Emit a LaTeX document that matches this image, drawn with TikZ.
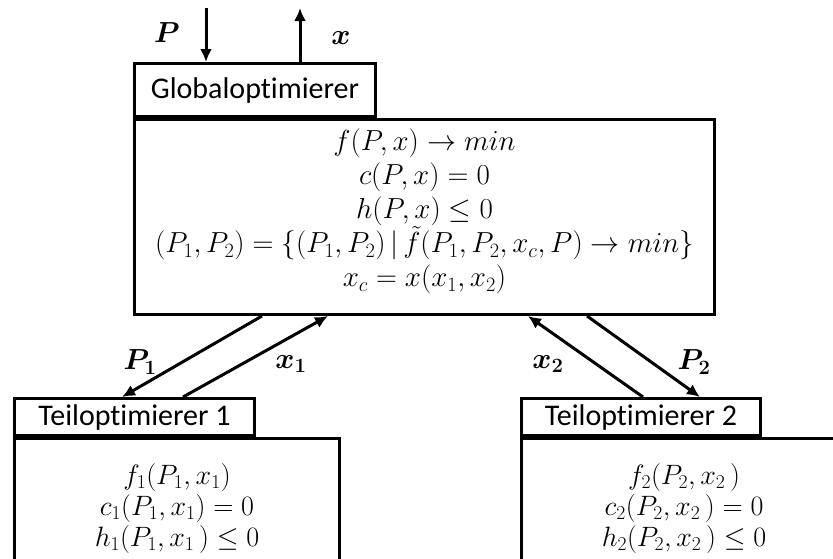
\RequirePackage{fix-cm}
\documentclass[tikz,border=0pt]{standalone}
\usepackage{amsmath}
\usepackage{bm}
\usepackage{fontspec}
\setmainfont{Carlito}[Ligatures={NoCommon,NoContextual}]
\usetikzlibrary{arrows.meta}

\begin{document}
\begin{tikzpicture}[x=1pt, y=-1pt,
    body/.style={draw, line width=3pt, fill=white, align=center, inner sep=0pt,
                 font=\fontsize{29}{34}\selectfont},
    subbody/.style={body, font=\fontsize{28}{31}\selectfont},
    tab/.style={draw, line width=3pt, fill=white, inner sep=0pt,
                font=\fontsize{30}{36}\selectfont},
    flow/.style={line width=3pt, -{Latex[length=13pt,width=12pt]}},
    lbl/.style={font=\fontsize{29}{32}\selectfont}
]
\useasboundingbox (0,0) rectangle (833,558);

% Global optimizer
\node[body, anchor=north west, minimum width=580pt, minimum height=195pt] (glob) at (133,118)
    {$f(P,x) \rightarrow min$\\
     $c(P,x) = 0$\\
     $h(P,x) \leq 0$\\
     $(P_1,P_2) = \{(P_1,P_2)\,|\,\tilde{f}(P_1,P_2,x_c,P) \rightarrow min\}$\\
     $x_c = x(x_1,x_2)$\rule[-18pt]{0pt}{18pt}};
\node[tab, anchor=south west, minimum width=241pt, minimum height=53pt] (globtitle) at (glob.north west)
    {Globaloptimierer};

% Sub optimizers
\node[subbody, anchor=north west, minimum width=325pt, minimum height=140pt] (sub1) at (13,437)
    {$f_1(P_1,x_1)$\\
     $c_1(P_1,x_1) = 0$\\
     $h_1(P_1,x_1\,) \leq 0$};
\node[tab, anchor=south west, minimum width=240pt, minimum height=37pt] (sub1title) at (sub1.north west)
    {Teiloptimierer 1};

\node[subbody, anchor=north west, minimum width=325pt, minimum height=140pt] (sub2) at (520,437)
    {$f_2(P_2,x_2\,)$\\
     $c_2(P_2,x_2\,) = 0$\\
     $h_2(P_2,x_2\,) \leq 0$};
\node[tab, anchor=south west, minimum width=239pt, minimum height=37pt] (sub2title) at (sub2.north west)
    {Teiloptimierer 2};

% Inputs and outputs
\coordinate (Pin)  at (206,8);
\coordinate (xout) at (300,8);
\draw[flow] (Pin) -- (Pin |- globtitle.north);
\draw[flow] (xout |- globtitle.north) -- (xout);
\node[lbl] (Plabel) at (167,33) {$\bm{P}$};
\node[lbl] (xlabel) at (341,38) {$\bm{x}$};

% Exchange between optimizers
\draw[flow] ([xshift=129pt]glob.south west) -- ([xshift=109pt]sub1title.north west);
\draw[flow] ([xshift=170pt]sub1title.north west) -- ([xshift=195pt]glob.south west);
\draw[flow] ([xshift=123pt]sub2title.north west) -- ([xshift=395pt]glob.south west);
\draw[flow] ([xshift=454pt]glob.south west) -- ([xshift=180pt]sub2title.north west);

\node[lbl] (P1label) at (140,362) {$\bm{P_1}$};
\node[lbl] (x1label) at (291,364) {$\bm{x_1}$};
\node[lbl] (x2label) at (548,364) {$\bm{x_2}$};
\node[lbl] (P2label) at (694,362) {$\bm{P_2}$};

\end{tikzpicture}
\end{document}
